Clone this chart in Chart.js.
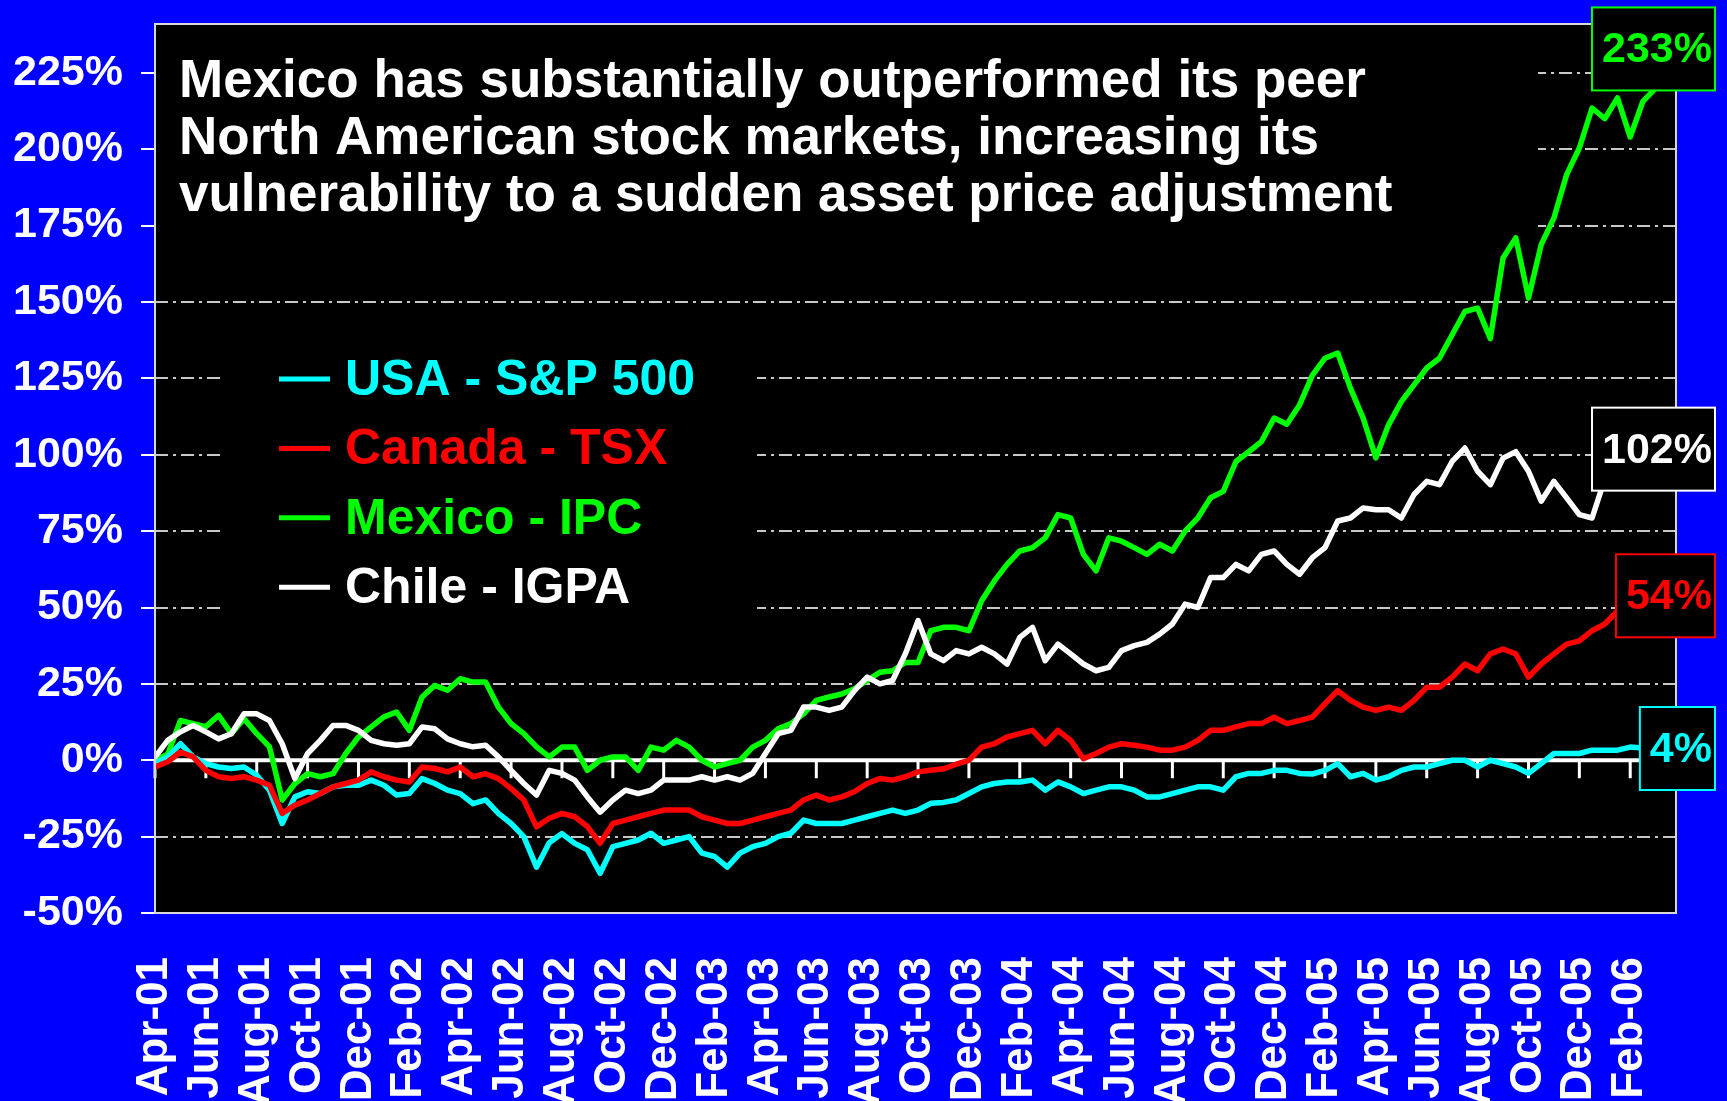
<!DOCTYPE html>
<html>
<head>
<meta charset="utf-8">
<script src="https://cdn.jsdelivr.net/npm/chart.js@4.4.0/dist/chart.umd.min.js"></script>
<style>
  html, body { margin: 0; padding: 0; background: #0000ff; }
  #wrap { width: 1727px; height: 1101px; position: relative; }
</style>
</head>
<body>
<div id="wrap"><canvas id="chart"></canvas></div>
<script>
const tickLabels = ['Apr-01', 'Jun-01', 'Aug-01', 'Oct-01', 'Dec-01', 'Feb-02', 'Apr-02', 'Jun-02',
  'Aug-02', 'Oct-02', 'Dec-02', 'Feb-03', 'Apr-03', 'Jun-03', 'Aug-03', 'Oct-03', 'Dec-03', 'Feb-04',
  'Apr-04', 'Jun-04', 'Aug-04', 'Oct-04', 'Dec-04', 'Feb-05', 'Apr-05', 'Jun-05', 'Aug-05', 'Oct-05',
  'Dec-05', 'Feb-06'];
const yTicks = [-50, -25, 0, 25, 50, 75, 100, 125, 150, 175, 200, 225];

const usa = [
  -1.1, 1.1, 5.4, 1.1, -1.1, -2.2, -2.7, -2.2, -4.9, -9.8,
  -20.7, -12, -10.3, -10.9, -8.7, -8.2, -8.2, -6.5, -8.2, -11.4,
  -10.9, -6, -7.6, -9.8, -10.9, -14.2, -13, -17.4, -20.7, -25,
  -35, -27, -24, -27.2, -29.3, -37, -28.3, -27.2, -26.1, -23.9,
  -27.2, -26.1, -25, -30.4, -31.5, -35, -30.4, -28.3, -27.2, -25,
  -23.9, -19.6, -20.7, -20.7, -20.7, -19.6, -18.5, -17.4, -16.3, -17.4,
  -16.3, -14.1, -13.8, -13, -10.9, -8.7, -7.6, -7.1, -7.1, -6.5,
  -9.8, -7.1, -8.7, -10.9, -9.8, -8.7, -8.7, -9.8, -12, -12,
  -10.9, -9.8, -8.7, -8.7, -9.8, -5.4, -4.3, -4.3, -3.3, -3.3,
  -4.3, -4.5, -3.3, -1.1, -5.4, -4.3, -6.5, -5.4, -3.3, -2.2,
  -2.2, -1.1, 0, 0, -2.2, 0, -1.1, -2.2, -4.3, -1.1,
  2.2, 2.2, 2.2, 3.3, 3.3, 3.3, 4.3, 4, 4, 4
];
const canada = [
  -2.2, -0.5, 2.7, 1.1, -3.3, -5.4, -6, -5.4, -6.5, -8.2,
  -17.4, -14.7, -13, -10.9, -8.7, -7.6, -6.5, -3.8, -5.4, -6.5,
  -7.1, -2.2, -2.7, -3.8, -2.2, -5.4, -4.4, -6, -9.3, -13,
  -21.8, -19, -17.4, -18.5, -21.7, -27.2, -20.7, -19.6, -18.5, -17.4,
  -16.3, -16.3, -16.3, -18.5, -19.6, -20.7, -20.7, -19.6, -18.5, -17.4,
  -16.3, -13, -11.4, -13, -12, -10.3, -7.6, -6, -6.5, -5.4,
  -3.8, -3.3, -2.8, -1.3, 0, 4.3, 5.4, 7.6, 8.7, 9.8,
  5.4, 9.8, 6.5, 0.5, 2.2, 4.3, 5.4, 4.9, 4.3, 3.3,
  3.3, 4.3, 6.5, 9.8, 9.8, 10.9, 12, 12, 14.1, 12,
  13, 14.1, 18.5, 22.8, 19.6, 17.4, 16.3, 17.4, 16.3, 19.6,
  23.9, 23.9, 27.2, 31.5, 29.3, 34.8, 36.4, 34.8, 27.2, 31.5,
  34.8, 38, 39.1, 42.4, 44.6, 48.9, 51, 52, 53, 54
];
const mexico = [
  0, 2, 13, 12, 11, 14.7, 8.7, 13.6, 8.7, 4.4,
  -13, -7.6, -4.4, -5.4, -4.4, 2.2, 7.6, 10.9, 14.2, 15.8,
  9.8, 20.7, 24.5, 22.9, 26.7, 25.6, 25.6, 17.4, 12, 8.7,
  4.4, 1.1, 4.3, 4.3, -3.3, 0, 1.1, 1.1, -3.3, 4.3,
  3.3, 6.5, 4.3, 0, -2.2, -1.1, 0, 4.3, 6.5, 10.3,
  12, 15.2, 19.6, 20.7, 21.7, 23.4, 26.1, 28.8, 29.3, 32,
  32, 42.4, 43.5, 43.5, 42.4, 52.2, 58.7, 64.1, 68.5, 69.6,
  72.8, 80.4, 79.3, 67.4, 62, 72.8, 71.7, 69.6, 67.4, 70.7,
  68.5, 75, 79.3, 85.9, 88, 97.8, 101, 104.3, 112, 110,
  116.3, 126, 131.6, 133.3, 121.8, 112, 99, 109.8, 117.4, 122.9,
  128.4, 131.6, 139.3, 146.9, 148, 138, 164.4, 171, 151.3, 168.8,
  177.5, 191.7, 200.4, 213.5, 210, 216.8, 204, 215.7, 220, 233
];
const chile = [
  1, 6.5, 9.3, 11.4, 9.3, 7, 8.7, 15.2, 15.2, 13,
  5.4, -6, 2.2, 6.5, 11.4, 11.4, 9.8, 6.5, 5.4, 4.9,
  5.4, 10.9, 10.3, 7, 5.4, 4.4, 4.9, 1.1, -3.3, -7.6,
  -11.4, -3.3, -4.3, -6.5, -12, -17, -13, -9.8, -10.9, -9.8,
  -6.5, -6.5, -6.5, -5.4, -6.5, -5.4, -6.5, -4.3, 2.2, 8.7,
  9.8, 17.4, 17.4, 16.3, 17.4, 22.8, 27.2, 25, 26.1, 34.8,
  45.7, 34.8, 32.6, 35.9, 34.8, 37, 34.8, 31.5, 40.2, 43.5,
  32.6, 38, 34.8, 31.5, 29.3, 30.4, 35.9, 37.5, 38.6, 41.3,
  44.6, 51.1, 50, 59.8, 59.8, 64.1, 62, 67.4, 68.5, 64.1,
  60.9, 66.3, 69.6, 78.3, 79.3, 82.6, 82, 82, 79.3, 87,
  91.3, 90.2, 97.8, 102.2, 94.6, 90.2, 98.9, 101, 94.6, 84.8,
  91.3, 85.9, 80.4, 79.3, 92, 96, 99, 100, 101, 102
];

const FONT = '"Liberation Sans", Arial, Helvetica, sans-serif';
const titleLines = [
  'Mexico has substantially outperformed its peer',
  'North American stock markets, increasing its',
  'vulnerability to a sudden asset price adjustment'
];

// x = months since Apr-01, two samples a month
function toPoints(values) {
  return values.map((v, i) => ({ x: i / 2, y: v }));
}

const plotBackground = {
  id: 'plotBackground',
  beforeDraw(chart) {
    const { ctx, chartArea: a } = chart;
    ctx.save();
    ctx.fillStyle = '#000000';
    ctx.fillRect(a.left, a.top, a.right - a.left, a.bottom - a.top);
    ctx.restore();
  }
};

// title, legend and zero line sit on top of the grid but under the lines
const overlay = {
  id: 'overlay',
  beforeDatasetsDraw(chart) {
    const { ctx, chartArea: a, scales } = chart;
    ctx.save();
    ctx.fillStyle = '#000000';
    ctx.fillRect(a.left + 1, a.top + 2, 1537 - a.left, 226);
    ctx.fillRect(225, 330, 532, 310);

    ctx.fillStyle = '#ffffff';
    ctx.font = 'bold 53px ' + FONT;
    ctx.textBaseline = 'alphabetic';
    titleLines.forEach((t, i) => ctx.fillText(t, 179, 97 + i * 57));

    // legend
    ctx.font = 'bold 50px ' + FONT;
    ctx.textBaseline = 'middle';
    chart.data.datasets.forEach((ds, i) => {
      const y = 379 + i * 69.4;
      ctx.strokeStyle = ds.borderColor;
      ctx.lineWidth = 5;
      ctx.beginPath();
      ctx.moveTo(279, y);
      ctx.lineTo(330, y);
      ctx.stroke();
      ctx.fillStyle = ds.borderColor;
      ctx.fillText(ds.label, 345, y + 2);
    });

    // zero line with month ticks hanging below it
    const y0 = scales.y.getPixelForValue(0);
    ctx.strokeStyle = '#ffffff';
    ctx.lineWidth = 4;
    ctx.beginPath();
    ctx.moveTo(a.left, y0);
    ctx.lineTo(a.right, y0);
    ctx.stroke();
    ctx.lineWidth = 3;
    scales.x.ticks.forEach(t => {
      const x = scales.x.getPixelForValue(t.value);
      ctx.beginPath();
      ctx.moveTo(x, y0);
      ctx.lineTo(x, y0 + 18);
      ctx.stroke();
    });
    ctx.restore();
  },
  afterDatasetsDraw(chart) {
    const { ctx, chartArea: a, scales } = chart;
    ctx.save();
    ctx.strokeStyle = '#d8d8d8';
    ctx.lineWidth = 2;
    ctx.strokeRect(a.left, a.top, a.right - a.left, a.bottom - a.top);

    // end value boxes
    ctx.font = 'bold 43px ' + FONT;
    ctx.textBaseline = 'middle';
    ctx.textAlign = 'right';
    chart.data.datasets.forEach(ds => {
      const last = ds.data[ds.data.length - 1].y;
      const y = scales.y.getPixelForValue(last);
      const txt = Math.round(last) + '%';
      const w = ctx.measureText(txt).width;
      const right = 1715;
      const left = right - w - 13;
      ctx.fillStyle = '#000000';
      ctx.fillRect(left, y - 41, right - left, 83);
      ctx.strokeStyle = ds.borderColor;
      ctx.lineWidth = 2;
      ctx.strokeRect(left, y - 41, right - left, 83);
      ctx.fillStyle = ds.borderColor;
      ctx.fillText(txt, right - 3, y + 2);
    });
    ctx.restore();
  }
};

const lineStyle = {
  borderWidth: 5.5,
  pointRadius: 0,
  tension: 0,
  fill: false,
  borderJoinStyle: 'round',
  borderCapStyle: 'round'
};

new Chart(document.getElementById('chart'), {
  type: 'line',
  data: {
    datasets: [
      { label: 'USA - S&P 500', data: toPoints(usa), borderColor: '#00ffff', order: 1, ...lineStyle },
      { label: 'Canada - TSX', data: toPoints(canada), borderColor: '#ff0000', order: 0, ...lineStyle },
      { label: 'Mexico - IPC', data: toPoints(mexico), borderColor: '#00ff00', order: 3, ...lineStyle },
      { label: 'Chile - IGPA', data: toPoints(chile), borderColor: '#ffffff', order: 2, ...lineStyle }
    ]
  },
  options: {
    responsive: true,
    maintainAspectRatio: false,
    animation: false,
    layout: {
      padding: { top: 24, right: 51, left: 0, bottom: 0 }
    },
    plugins: {
      legend: { display: false },
      tooltip: { enabled: false }
    },
    scales: {
      x: {
        type: 'linear',
        min: 0,
        max: 59.8,
        afterBuildTicks: function(scale) {
          scale.ticks = tickLabels.map((l, i) => ({ value: i * 2 }));
        },
        afterFit: function(scale) {
          scale.height = 188;
          scale.paddingLeft = 0;
          scale.paddingRight = 0;
        },
        grid: { display: false },
        border: { display: false },
        ticks: {
          color: '#ffffff',
          autoSkip: false,
          minRotation: 90,
          maxRotation: 90,
          padding: 36,
          font: { family: FONT, size: 44, weight: 'bold' },
          callback: function(value, index) {
            return tickLabels[index];
          }
        }
      },
      y: {
        min: -50,
        max: 241,
        afterBuildTicks: function(scale) {
          scale.ticks = yTicks.map(v => ({ value: v }));
        },
        afterFit: function(scale) {
          scale.width = 155;
          scale.paddingTop = 0;
          scale.paddingBottom = 0;
        },
        grid: {
          color: '#c8c8c8',
          lineWidth: 2,
          borderDash: [13, 5, 3, 5],
          tickColor: '#ffffff',
          tickLength: 14,
          tickWidth: 2,
          tickBorderDash: []
        },
        border: { display: false, dash: [13, 5, 3, 5] },
        ticks: {
          color: '#ffffff',
          padding: 18,
          font: { family: FONT, size: 43, weight: 'bold' },
          callback: function(value) {
            return value + '%';
          }
        }
      }
    }
  },
  plugins: [plotBackground, overlay]
});
</script>
</body>
</html>
